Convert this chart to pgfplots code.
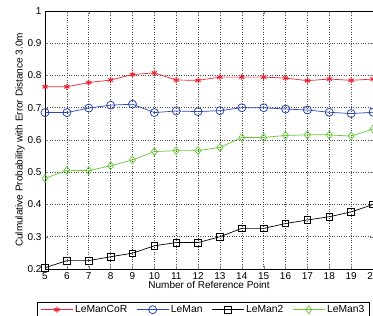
\documentclass[border=0pt]{standalone}
\usepackage{pgfplots}
\pgfplotsset{compat=1.18}
\usepackage{fontspec}
\setmainfont{Liberation Sans}
\definecolor{cred}{RGB}{235,35,50}
\definecolor{cblue}{RGB}{45,70,180}
\definecolor{cgreen}{RGB}{100,200,50}
\begin{document}
\begin{tikzpicture}[x=1bp,y=1bp]
\begin{axis}[
  name=ax,
  at={(0,0)}, anchor=south west,
  scale only axis,
  width=328bp, height=258bp,
  xmin=5, xmax=20, ymin=0.2, ymax=1,
  xtick={5,...,20},
  ytick={0.2,0.3,...,1.0},
  yticklabel style={/pgf/number format/fixed,/pgf/number format/precision=1},
  /pgf/number format/assume math mode=true,
  tick label style={font=\fontsize{10bp}{12bp}\selectfont},
  label style={font=\fontsize{10bp}{12bp}\selectfont},
  xlabel={Number of Reference Point},
  ylabel={Culmulative Probability with Error Distance 3.0m},
  xlabel style={yshift=5bp},
  ylabel style={yshift=-4bp},
  tick align=inside,
  major tick length=3bp,
  grid=major,
  grid style={black!70, dotted, line width=0.6pt},
  axis line style={line width=0.8pt},
  clip=false,
  legend columns=4,
  legend style={at={(-0.024,-0.126)}, anchor=north west,
    font=\fontsize{10.3bp}{12bp}\selectfont, draw=black, line width=0.8pt,
    inner xsep=3bp, inner ysep=1.5bp,
    /tikz/every even column/.append style={column sep=7bp},
    /tikz/every odd column/.append style={column sep=0bp}},
  legend image code/.code={\draw[mark repeat=2,mark phase=2] plot coordinates {(0bp,0bp) (16bp,0bp) (32bp,0bp)};},
]
\addplot[color=cred, line width=0.7pt, mark=asterisk, mark size=3bp, mark options={line width=1pt}] coordinates {
(5,0.765)(6,0.765)(7,0.778)(8,0.786)(9,0.803)(10,0.808)(11,0.786)(12,0.785)(13,0.795)(14,0.795)(15,0.795)(16,0.792)(17,0.784)(18,0.789)(19,0.785)(20,0.789)};
\addlegendentry{LeManCoR}
\addplot[color=cblue, line width=0.7pt, mark=o, mark size=4bp, mark options={line width=0.8pt}] coordinates {
(5,0.685)(6,0.685)(7,0.699)(8,0.708)(9,0.711)(10,0.685)(11,0.690)(12,0.688)(13,0.691)(14,0.700)(15,0.700)(16,0.696)(17,0.693)(18,0.686)(19,0.682)(20,0.686)};
\addlegendentry{LeMan}
\addplot[color=black, line width=0.7pt, mark=square, mark size=3.3bp, mark options={line width=0.7pt}] coordinates {
(5,0.204)(6,0.226)(7,0.226)(8,0.238)(9,0.249)(10,0.272)(11,0.282)(12,0.282)(13,0.300)(14,0.326)(15,0.326)(16,0.341)(17,0.352)(18,0.362)(19,0.377)(20,0.400)};
\addlegendentry{LeMan2}
\addplot[color=cgreen, line width=0.7pt, mark=diamond, mark size=4bp, mark options={line width=0.7pt}] coordinates {
(5,0.481)(6,0.506)(7,0.505)(8,0.520)(9,0.538)(10,0.564)(11,0.567)(12,0.567)(13,0.577)(14,0.608)(15,0.608)(16,0.614)(17,0.616)(18,0.616)(19,0.612)(20,0.634)};
\addlegendentry{LeMan3}
\end{axis}
\pgfresetboundingbox
\path[use as bounding box] (-45bp,-47bp) rectangle (328bp,269bp);
\end{tikzpicture}
\end{document}
